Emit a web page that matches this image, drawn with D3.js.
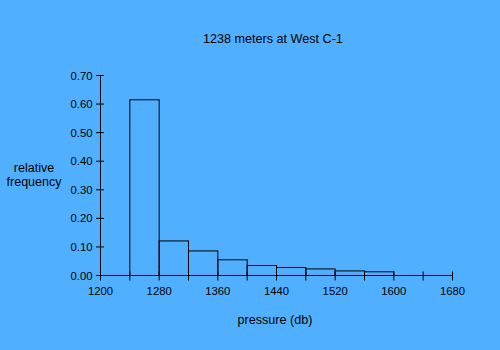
<!DOCTYPE html>
<html>
<head>
<meta charset="utf-8">
<script src="https://cdn.jsdelivr.net/npm/d3@7"></script>
<style>
  html, body { margin: 0; padding: 0; background: #50b0ff; }
  svg { display: block; }
  text { font-family: "Liberation Sans", Arial, sans-serif; fill: #000; }
</style>
</head>
<body>
<svg id="chart" width="500" height="350"></svg>
<script>
// Histogram bins (lower edge, upper edge in db) and relative frequencies
const binStarts = [1240, 1280, 1320, 1360, 1400, 1440, 1480, 1520, 1560];
const binEnds   = [1280, 1320, 1360, 1400, 1440, 1480, 1520, 1560, 1600];
const frequencies = [0.615, 0.121, 0.086, 0.055, 0.035, 0.028, 0.023, 0.016, 0.013];

const xTickValues = [1200, 1240, 1280, 1320, 1360, 1400, 1440, 1480, 1520, 1560, 1600, 1640, 1680];
const xLabelValues = [1200, 1280, 1360, 1440, 1520, 1600, 1680];
const yTickValues = [0, 0.1, 0.2, 0.3, 0.4, 0.5, 0.6, 0.7];

const titleText = "1238 meters at West C-1";
const xTitle = "pressure (db)";
const yTitle = ["relative", "frequency"];

const svg = d3.select("#chart");

const x = d3.scaleLinear().domain([1200, 1680]).range([100.5, 452.5]);
const y = d3.scaleLinear().domain([0, 0.7]).range([275.5, 75.5]);

const bins = binStarts.map((s, i) => ({ x0: s, x1: binEnds[i], f: frequencies[i] }));

// Outlined bars
svg.append("g")
  .selectAll("rect")
  .data(bins)
  .join("rect")
  .attr("x", d => x(d.x0))
  .attr("y", d => y(d.f))
  .attr("width", d => x(d.x1) - x(d.x0))
  .attr("height", d => y(0) - y(d.f))
  .attr("fill", "none")
  .attr("stroke", "#000")
  .attr("stroke-width", 1);

// X axis: ticks cross the axis line
const xAxis = svg.append("g");
xAxis.append("line")
  .attr("x1", x(1200)).attr("x2", x(1680))
  .attr("y1", y(0)).attr("y2", y(0))
  .attr("stroke", "#000");
xAxis.selectAll("line.tick")
  .data(xTickValues)
  .join("line")
  .attr("class", "tick")
  .attr("x1", d => x(d)).attr("x2", d => x(d))
  .attr("y1", y(0) - 4).attr("y2", y(0) + 5)
  .attr("stroke", "#000");
xAxis.selectAll("text")
  .data(xLabelValues)
  .join("text")
  .attr("x", d => x(d))
  .attr("y", 294.5)
  .attr("text-anchor", "middle")
  .attr("font-size", "11.3px")
  .text(d => d);

// Y axis
const yAxis = svg.append("g");
yAxis.append("line")
  .attr("x1", x(1200)).attr("x2", x(1200))
  .attr("y1", y(0)).attr("y2", y(0.7))
  .attr("stroke", "#000");
yAxis.selectAll("line.tick")
  .data(yTickValues)
  .join("line")
  .attr("class", "tick")
  .attr("x1", x(1200) - 4.5).attr("x2", x(1200) + 3.5)
  .attr("y1", d => y(d)).attr("y2", d => y(d))
  .attr("stroke", "#000");
yAxis.selectAll("text")
  .data(yTickValues)
  .join("text")
  .attr("x", 92.5)
  .attr("y", d => y(d) + 4)
  .attr("text-anchor", "end")
  .attr("font-size", "11.3px")
  .text(d => d3.format(".2f")(d));

// Titles
svg.append("text")
  .attr("x", 273).attr("y", 43)
  .attr("text-anchor", "middle")
  .attr("font-size", "12.6px")
  .text(titleText);

svg.append("text")
  .attr("x", 275).attr("y", 324)
  .attr("text-anchor", "middle")
  .attr("font-size", "12.6px")
  .text(xTitle);

svg.append("g")
  .selectAll("text")
  .data(yTitle)
  .join("text")
  .attr("x", 34)
  .attr("y", (d, i) => 172 + i * 14)
  .attr("text-anchor", "middle")
  .attr("font-size", "12.5px")
  .text(d => d);
</script>
</body>
</html>
